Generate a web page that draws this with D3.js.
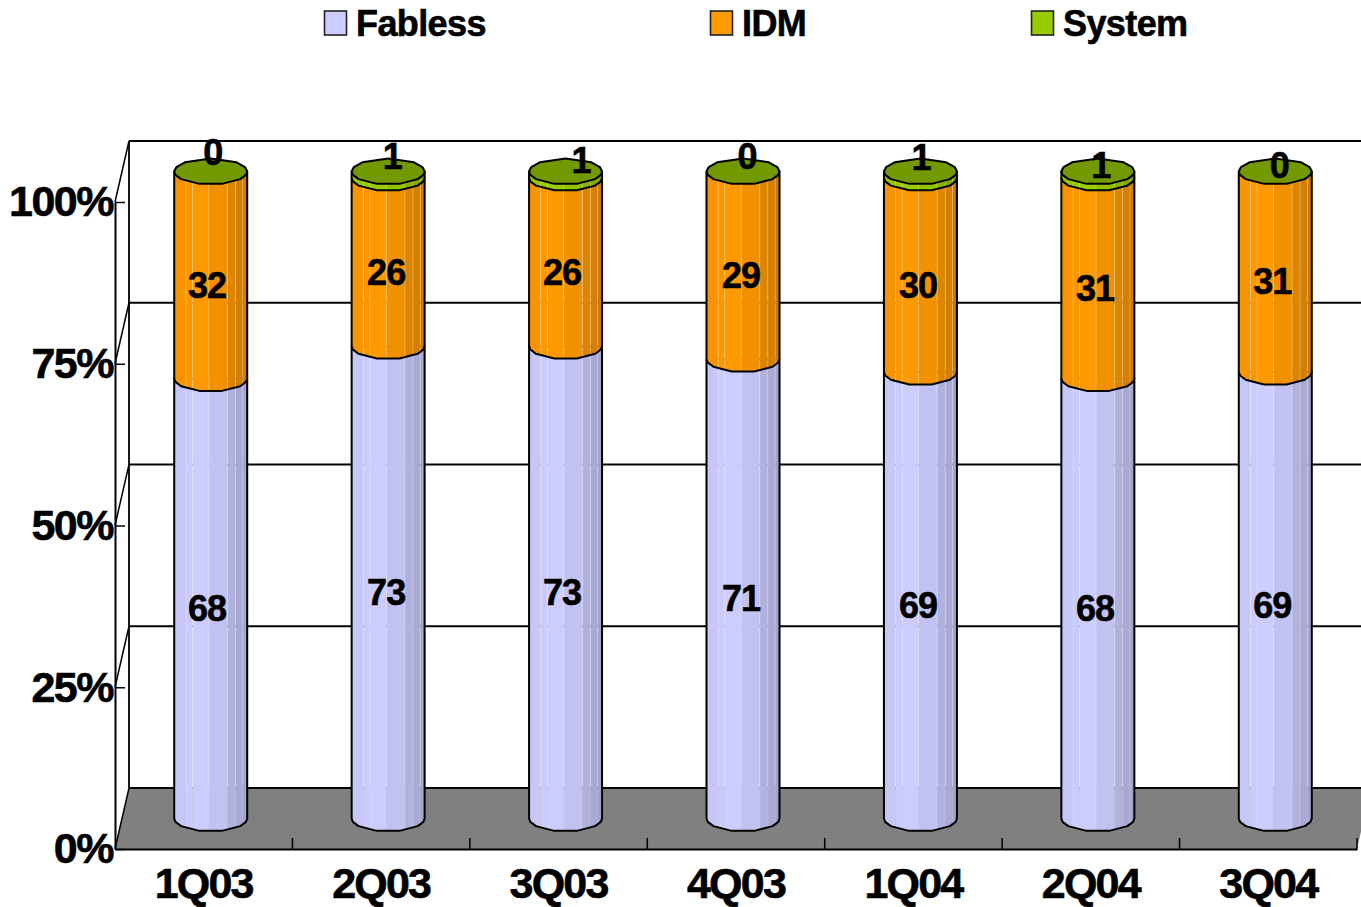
<!DOCTYPE html>
<html>
<head>
<meta charset="utf-8">
<script src="https://cdn.jsdelivr.net/npm/d3@7"></script>
<style>
	body { margin: 0; background: #fff; }
	svg { display: block; }
	text { font-family: "Liberation Sans", Arial, sans-serif; font-weight: bold; fill: #000; stroke: #000; stroke-width: 0.6; }
</style>
</head>
<body>
<div id="graph"></div>
<script>
// Chart data
var quarters = ["1Q03", "2Q03", "3Q03", "4Q03", "1Q04", "2Q04", "3Q04"];
var seriesNames = ["Fabless", "IDM", "System"];
var fabless = [68, 73, 73, 71, 69, 68, 69];
var idm = [32, 26, 26, 29, 30, 31, 31];
var system = [0, 1, 1, 0, 1, 1, 0];
var percentTicks = [0, 25, 50, 75, 100];

// Hand placed label offsets, one per quarter
var labelShiftX = [-3.7, -2, -3.5, -2, -2.4, -2.8, -3];
var systemShiftX = [2, 4, 15.5, 4, 0.6, 3, 4];
var systemShiftY = [-19.5, -15, -11.5, -15, -14, -6, -6];

var SVGwidth = 1361,
	SVGheight = 907,
	margin = {left: 115, right: 4, top: 202, bottom: 58},
	depth = {x: 14, y: -61},
	radius = {x: 36.5, y: 13};

var colors = {Fabless: "#CCCCFF", IDM: "#FF9900", System: "#99CC00"};

var svg = d3.select("div#graph")
	.append("svg")
	.attr("width", SVGwidth)
	.attr("height", SVGheight);

var x = d3.scaleBand()
	.domain(quarters)
	.range([margin.left, SVGwidth - margin.right]);

var y = d3.scaleLinear()
	.domain([0, 100])
	.range([SVGheight - margin.bottom, margin.top]);

// Back wall, floor and grid
var line = d3.line();
var right = SVGwidth - margin.right;

svg.append("path")
	.attr("d", line([[margin.left, y(0)], [margin.left + depth.x, y(0) + depth.y], [right + depth.x, y(0) + depth.y], [right, y(0)]]) + "Z")
	.attr("fill", "#808080");

percentTicks.forEach(function(t) {
	svg.append("line")
		.attr("x1", margin.left + depth.x).attr("x2", right + depth.x)
		.attr("y1", y(t) + depth.y).attr("y2", y(t) + depth.y)
		.attr("stroke", "#000").attr("stroke-width", 1.8);
	svg.append("line")
		.attr("x1", margin.left).attr("x2", margin.left + depth.x)
		.attr("y1", y(t)).attr("y2", y(t) + depth.y)
		.attr("stroke", "#000").attr("stroke-width", 1.5);
});

svg.append("line")
	.attr("x1", margin.left + depth.x).attr("x2", margin.left + depth.x)
	.attr("y1", y(100) + depth.y).attr("y2", y(0) + depth.y)
	.attr("stroke", "#000").attr("stroke-width", 1.8);

// Axes
var yAxis = d3.axisLeft(y)
	.tickValues(percentTicks)
	.tickSizeInner(-10)
	.tickSizeOuter(0)
	.tickPadding(2)
	.tickFormat(function(d) { return d + "%"; });

var yAxisGroup = svg.append("g")
	.attr("class", "y axis")
	.attr("transform", "translate(" + margin.left + ",0)")
	.call(yAxis);

yAxisGroup.select(".domain").attr("stroke-width", 2);
yAxisGroup.selectAll("line").attr("stroke-width", 1.5);
yAxisGroup.selectAll("text")
	.attr("font-size", 43)
	.attr("letter-spacing", -1.5);

var xAxis = d3.axisBottom(x)
	.tickSize(0)
	.tickPadding(0);

var xAxisGroup = svg.append("g")
	.attr("class", "x axis")
	.attr("transform", "translate(0," + y(0) + ")")
	.call(xAxis);

xAxisGroup.select(".domain").attr("stroke-width", 2);
xAxisGroup.selectAll("text")
	.attr("font-size", 43)
	.attr("letter-spacing", -1.8)
	.attr("y", 49)
	.attr("dy", 0);

// Category separators sit on the band edges
xAxisGroup.selectAll("line.edge")
	.data(quarters)
	.enter()
	.append("line")
	.attr("class", "edge")
	.attr("x1", function(d) { return x(d) + x.bandwidth(); })
	.attr("x2", function(d) { return x(d) + x.bandwidth(); })
	.attr("y1", -11)
	.attr("y2", 0)
	.attr("stroke", "#000")
	.attr("stroke-width", 1.5);

// Cylinders. Sides are faceted, so the outline is a polygon and not an ellipse
var frontAngles = [0, 15, 36, 72, 108, 144, 165, 180];
var backAngles = [200, 225, 270, 315, 340];
var strips = [
	{from: -1.0, to: -0.68, k: 0.97},
	{from: -0.68, to: -0.5, k: 0.99},
	{from: -0.5, to: -0.05, k: 1.0},
	{from: -0.05, to: 0.46, k: 0.95},
	{from: 0.46, to: 0.68, k: 0.87},
	{from: 0.68, to: 0.88, k: 0.83},
	{from: 0.88, to: 1.0, k: 0.8}
];

function rimPoint(cx, cy, angle) {
	var a = angle * Math.PI / 180;
	return [cx - radius.x * Math.cos(a), cy + radius.y * Math.sin(a)];
}

function shade(color, k) {
	var c = d3.rgb(color);
	return d3.rgb(c.r * k, c.g * k, c.b * k).formatHex();
}

function drawSegment(group, name, i, cx, yBottom, yTop) {
	var rim = frontAngles.map(function(a) { return rimPoint(cx, yBottom, a); });
	var outline = line([[cx - radius.x, yTop]].concat(rim, [[cx + radius.x, yTop]])) + "Z";
	var clipId = "clip-" + name + "-" + i;

	group.append("clipPath")
		.attr("id", clipId)
		.append("path")
		.attr("d", outline);

	var body = group.append("g").attr("clip-path", "url(#" + clipId + ")");

	strips.forEach(function(s) {
		body.append("rect")
			.attr("x", cx + s.from * radius.x)
			.attr("width", (s.to - s.from) * radius.x)
			.attr("y", yTop)
			.attr("height", yBottom - yTop + radius.y + 1)
			.attr("fill", shade(colors[name], s.k));
		if (s.from > -1) {
			body.append("line")
				.attr("x1", cx + s.from * radius.x)
				.attr("x2", cx + s.from * radius.x)
				.attr("y1", yTop)
				.attr("y2", yBottom + radius.y)
				.attr("stroke", "#fff")
				.attr("stroke-opacity", 0.25);
		}
	});

	group.append("path")
		.attr("d", outline)
		.attr("fill", "none")
		.attr("stroke", "#000")
		.attr("stroke-width", 2)
		.attr("stroke-linejoin", "round");
}

function barY(v) { return y(v) + depth.y / 2; }

quarters.forEach(function(q, i) {
	var cx = x(q) + x.bandwidth() / 2 + depth.x / 2;
	var bar = svg.append("g").attr("class", "bar " + q);
	var stack = [fabless[i], idm[i], system[i]];
	var base = 0;

	stack.forEach(function(v, s) {
		if (v > 0) {
			drawSegment(bar, seriesNames[s], i, cx, barY(base), barY(base + v));
		}
		base += v;
	});

	var capAngles = frontAngles.concat(backAngles);
	bar.append("path")
		.attr("d", line(capAngles.map(function(a) { return rimPoint(cx, barY(base), a); })) + "Z")
		.attr("fill", shade(colors.System, 0.75))
		.attr("stroke", "#000")
		.attr("stroke-width", 2)
		.attr("stroke-linejoin", "round");
});

// Value labels go on last so nothing covers them
var labels = svg.append("g")
	.attr("class", "labels")
	.attr("font-size", 36)
	.attr("letter-spacing", -1)
	.attr("text-anchor", "middle");

quarters.forEach(function(q, i) {
	var cx = x(q) + x.bandwidth() / 2 + depth.x / 2;
	var mid1 = barY(fabless[i] / 2) + 10;
	var mid2 = barY(fabless[i] + idm[i] / 2) + 10;
	var total = fabless[i] + idm[i] + system[i];

	labels.append("text").attr("x", cx + labelShiftX[i]).attr("y", mid1).attr("dy", "0.35em").text(fabless[i]);
	labels.append("text").attr("x", cx + labelShiftX[i]).attr("y", mid2).attr("dy", "0.35em").text(idm[i]);
	labels.append("text")
		.attr("x", cx + systemShiftX[i])
		.attr("y", barY(total) + systemShiftY[i])
		.attr("dy", "0.35em")
		.text(system[i]);
});

// Legend
var legendX = d3.scaleOrdinal()
	.domain(seriesNames)
	.range([324, 710, 1031]);

var legend = svg.selectAll("g.legend")
	.data(seriesNames)
	.enter()
	.append("g")
	.attr("class", "legend")
	.attr("transform", function(d) { return "translate(" + legendX(d) + ",0)"; });

legend.append("rect")
	.attr("x", 0.5)
	.attr("y", 11)
	.attr("width", 22)
	.attr("height", 24)
	.attr("fill", function(d) { return colors[d]; })
	.attr("stroke", "#222")
	.attr("stroke-width", 1.6);

legend.append("text")
	.attr("x", 32)
	.attr("y", 36)
	.attr("font-size", 36)
	.attr("letter-spacing", -0.6)
	.text(function(d) { return d; });
</script>
</body>
</html>
